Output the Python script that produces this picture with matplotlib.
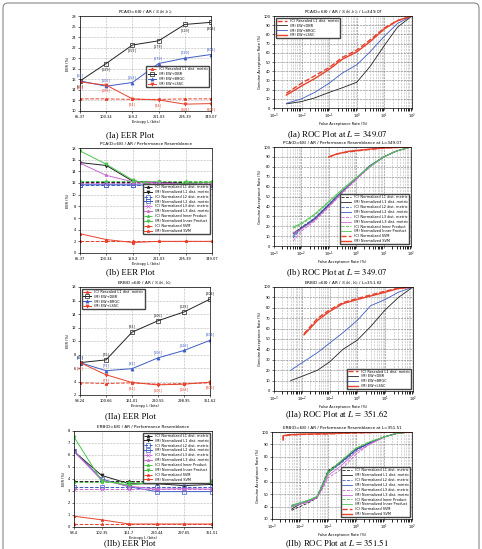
import numpy as np
import matplotlib.pyplot as plt
from matplotlib.patches import FancyBboxPatch

plt.rcParams['mathtext.fontset'] = 'stix'
W, H = 482, 549

# ---------------- data ----------------
# (Ia) EER, PCA
x1a = ["65.37", "100.34", "159.2", "221.03", "295.39", "349.07"]
eer1a_c = [12.3, 12.3, 12.2, 12.2, 12.3, 12.3]
eer1a_dbr = [15.7, 19.0, 22.5, 23.3, 26.4, 26.8]
eer1a_brgc = [15.7, 14.7, 15.4, 19.0, 20.0, 20.7]
eer1a_lssc = [15.5, 14.9, 12.3, 12.1, 11.3, 11.4]
lab1a_dbr = ["[58]", "[129]", "[153]", "[179]", "[229]", "[304]"]
lab1a_brgc = ["[58]", "[105]", "[153]", "[179]", "[229]", "[304]"]
lab1a_lssc = ["[58]", "[105]", "[44]", "[44]", "[164]", "[402]"]

# (Ia) ROC
far1a = [0.0028, 0.01, 0.03, 0.1, 0.3, 1, 3, 10, 30, 100]
gar1a_c = [16, 27, 35, 44, 55, 63, 74, 87, 95, 100]
gar1a_lssc = [14, 24, 32, 42, 53, 61, 72, 86, 95, 100]
gar1a_brgc = [5, 10, 17, 27, 38, 47, 61, 78, 92, 100]
gar1a_dbr = [4.5, 7, 11, 17, 22, 28, 45, 68, 88, 100]

# (Ib) EER, performance resemblance
eer1b_l1c = [12.2, 12.2, 12.2, 12.2, 12.2, 12.2]
eer1b_l1m = [15.5, 15.0, 12.3, 12.1, 11.9, 11.6]
eer1b_l2c = [11.7, 11.7, 11.7, 11.7, 11.7, 11.7]
eer1b_l2m = [11.7, 11.7, 11.7, 11.6, 11.6, 11.3]
eer1b_l3c = [12.0, 12.0, 12.0, 12.0, 12.0, 12.0]
eer1b_l3m = [15.4, 13.3, 12.2, 12.0, 11.9, 11.6]
eer1b_ipc = [12.3, 12.3, 12.3, 12.3, 12.3, 12.3]
eer1b_ipm = [17.5, 15.2, 12.5, 11.4, 12.0, 12.1]
eer1b_svc = [2.0, 2.0, 2.0, 2.0, 2.0, 2.0]
eer1b_svm = [3.3, 2.3, 1.8, 2.0, 2.0, 2.0]

# (Ib) ROC
far1b = [0.005, 0.01, 0.03, 0.1, 0.3, 1, 3, 10, 30, 100]
gar1b_l1c = [12, 19, 28, 42, 55, 68, 80, 90, 96, 100]
gar1b_l1m = [13, 18, 27, 41, 54, 68, 80, 90, 96, 100]
gar1b_l2c = [8, 18, 27, 41, 55, 68, 80, 90, 96, 100]
gar1b_l2m = [10, 18, 28, 42, 55, 68, 81, 90, 96, 100]
gar1b_l3c = [5, 15, 25, 39, 53, 67, 79, 90, 96, 100]
gar1b_l3m = [13, 17, 26, 40, 54, 68, 80, 90, 96, 100]
gar1b_ipc = [18, 22, 31, 44, 56, 69, 80, 90, 96, 100]
gar1b_ipm = [19, 23, 32, 45, 57, 69, 80, 90, 96, 100]
far1b_sv = [0.1, 0.2, 0.5, 1, 3, 10, 30, 100]
gar1b_svc = [90, 93, 95, 96, 97.5, 99, 99.5, 100]
gar1b_svm = [90, 93, 95.5, 96.5, 97.8, 99, 99.6, 100]

# (IIa) EER, ERB
x2a = ["58.24", "100.66", "161.01", "220.55", "298.95", "351.62"]
eer2a_c = [3.8, 3.7, 3.8, 3.6, 3.7, 3.8]
eer2a_dbr = [6.8, 7.2, 11.3, 13.0, 14.3, 16.2]
eer2a_brgc = [6.8, 5.6, 5.9, 7.5, 8.6, 10.1]
eer2a_lssc = [6.8, 5.0, 3.85, 3.5, 3.6, 3.9]
lab2a_dbr = ["[58]", "[75]", "[93]", "[106]", "[128]", "[304]"]
lab2a_brgc = ["[58]", "[75]", "[93]", "[106]", "[128]", "[304]"]
lab2a_lssc = ["[58]", "[77]", "[44]", "[105]", "[164]", "[402]"]

# (IIa) ROC
far2a_red = [0.012, 0.037, 0.1, 0.3, 1, 10, 30, 100]
gar2a_c = [55, 70, 78, 85, 89, 96, 99, 100]
gar2a_lssc = [54, 68, 76.5, 84, 88, 95, 98.5, 100]
far2a = [0.004, 0.01, 0.037, 0.1, 0.3, 1, 3, 10, 30, 100]
gar2a_brgc = [20, 27, 37, 46, 56, 68, 82, 88, 95, 100]
gar2a_dbr = [10, 14, 20, 28, 40, 49, 62, 78, 90, 100]

# (IIb) EER
x2b = ["58.4", "102.35", "161.7", "220.44", "297.65", "351.51"]
eer2b_l1c = [3.8, 3.8, 3.8, 3.8, 3.8, 3.8]
eer2b_l1m = [6.3, 4.3, 3.6, 3.6, 3.45, 3.55]
eer2b_l2c = [3.35, 3.35, 3.35, 3.35, 3.35, 3.35]
eer2b_l2m = [6.3, 4.0, 3.35, 2.95, 2.95, 2.95]
eer2b_l3c = [3.2, 3.2, 3.2, 3.2, 3.2, 3.2]
eer2b_l3m = [6.3, 3.9, 3.4, 3.15, 3.2, 3.15]
eer2b_ipc = [3.75, 3.75, 3.75, 3.75, 3.75, 3.75]
eer2b_ipm = [7.5, 3.85, 3.5, 3.75, 3.75, 3.85]
eer2b_svc = [0.25, 0.25, 0.25, 0.25, 0.25, 0.25]
eer2b_svm = [0.9, 0.6, 0.25, 0.25, 0.25, 0.25]

# (IIb) ROC
far2b = [0.005, 0.01, 0.02, 0.04, 0.06, 0.1, 0.3, 1, 3, 10, 30, 100]
gar2b_l1c = [37, 40, 43, 47, 56, 69, 76, 86, 91, 96, 99, 100]
gar2b_l1m = [38, 42, 44, 47, 55, 68, 76, 86, 91, 96, 99, 100]
gar2b_l2c = [40, 42, 44, 48, 57, 67, 75, 85, 91, 96, 99, 100]
gar2b_l2m = [41, 43, 45, 48, 56, 67, 76, 86, 91, 96, 99, 100]
gar2b_l3c = [40, 42, 44, 47, 53, 63, 70, 82, 90, 96, 99, 100]
gar2b_l3m = [40, 42, 44, 47, 54, 65, 73, 84, 90, 96, 99, 100]
gar2b_ipc = [40, 43, 45, 48, 56, 68, 77, 87, 92, 96, 99, 100]
gar2b_ipm = [41, 43, 45, 48, 56, 67, 77, 87, 92, 96, 99, 100]
far2b_sv = [0.0025, 0.0025, 0.004, 0.01, 0.1, 1, 10, 100]
gar2b_svc = [93, 96.5, 97.5, 98, 98.5, 99.3, 99.8, 100]
gar2b_svm = [94, 97, 97.8, 98.2, 98.7, 99.4, 99.8, 100]

names4 = ["(C) Rescaled L1 dist. metric", "(M) EW+DBR", "(M) EW+BRGC", "(M) EW+LSSC"]
names10 = ["(C) Normalized L1 dist. metric", "(M) Normalized L1 dist. metric",
           "(C) Normalized L2 dist. metric", "(M) Normalized L2 dist. metric",
           "(C) Normalized L3 dist. metric", "(M) Normalized L3 dist. metric",
           "(C) Normalized Inner Product", "(M) Normalized Inner Product",
           "(C) Normalized SVM", "(M) Normalized SVM"]

RED, BLK, BLU, PUR, GRN = '#e8412c', '#222222', '#3d5cc4', '#c86ad0', '#4cc44c'
sty4 = [(RED, '--', '*'), (BLK, '-', 's'), (BLU, '-', '^'), (RED, '-', 'v')]
sty10 = [(BLK, '--', '*'), (BLK, '-', 'v'), (BLU, '--', 's'), (BLU, '-', 's'),
         (PUR, '--', 'x'), (PUR, '-', '*'), (GRN, '--', '*'), (GRN, '-', 'v'),
         (RED, '--', '*'), (RED, '-', '*')]

FS = 2.6

fig = plt.figure(figsize=(W / 100, H / 100), dpi=100)
fig.patches.append(FancyBboxPatch((3 / W, -0.02), (W - 6) / W, 1.0 - 3 / H + 0.02,
                                  boxstyle="round,pad=0,rounding_size=0.01",
                                  transform=fig.transFigure, fill=False,
                                  edgecolor='#888888', linewidth=0.8))


def make_ax(l, r, t, b):
    ax = fig.add_axes([l / W, 1 - b / H, (r - l) / W, (b - t) / H])
    ax.tick_params(labelsize=FS, length=1.5, width=0.4, pad=1.2)
    for s in ax.spines.values():
        s.set_linewidth(0.5)
    return ax


def eer_panel(ax, xlabels, series, names, styles, ylim, ystep, title, loc, anchor):
    xs = np.arange(len(xlabels))
    for ys, nm, (c, ls, mk) in zip(series, names, styles):
        ax.plot(xs, ys, color=c, linestyle=ls, marker=mk, markersize=2.2,
                markerfacecolor='none' if mk == 's' else c, markeredgewidth=0.5,
                linewidth=0.7, label=nm)
    ax.set_xlim(0, len(xlabels) - 1)
    ax.set_xticks(xs)
    ax.set_xticklabels(xlabels)
    ax.set_ylim(*ylim)
    ax.set_yticks(np.arange(ylim[0], ylim[1] + 0.01, ystep))
    ax.grid(True, linestyle=':', linewidth=0.4, color='#777777')
    ax.set_title(title, fontsize=FS + 0.4, pad=2)
    ax.set_xlabel("Entropy L (bits)", fontsize=FS, labelpad=1)
    ax.set_ylabel("EER (%)", fontsize=FS, labelpad=1)
    ax.legend(fontsize=FS - 0.1, loc=loc, bbox_to_anchor=anchor, handlelength=2.5,
              labelspacing=0.25, borderpad=0.3, framealpha=1, edgecolor='#444444',
              fancybox=False)


def roc_panel(ax, curves, names, styles, ylim, title, loc):
    for (fx, gy), nm, (c, ls, mk) in zip(curves, names, styles):
        lw = 1.0 if c == RED else 0.6
        ax.semilogx(fx, gy, color=c, linestyle=ls, linewidth=lw, label=nm)
    ax.set_xlim(1e-3, 1e2)
    ax.set_ylim(*ylim)
    ax.set_yticks(np.arange(ylim[0], ylim[1] + 1, 10))
    ax.grid(True, which='major', linestyle='--', linewidth=0.4, color='#777777')
    ax.grid(True, which='minor', axis='x', linestyle=':', linewidth=0.4, color='#777777')
    ax.set_title(title, fontsize=FS + 0.4, pad=2)
    ax.set_xlabel("False Acceptance Rate (%)", fontsize=FS, labelpad=0.5)
    ax.set_ylabel("Genuine Acceptance Rate (%)", fontsize=FS, labelpad=1)
    ax.legend(fontsize=FS - 0.1, loc=loc, handlelength=3, labelspacing=0.25,
              borderpad=0.3, framealpha=1, edgecolor='#444444', fancybox=False)


def point_labels(ax, ys, labels, color, dy):
    for i, (y, t) in enumerate(zip(ys, labels)):
        ax.annotate(t, (i, y), xytext=(0, dy), textcoords='offset points',
                    ha='center', va='center', fontsize=FS - 0.3, color=color)


def caption(xc, yc, text):
    fig.text(xc / W, 1 - yc / H, text, ha='center', va='center', fontsize=6.3,
             family='Liberation Serif')


# ---- row 1 ----
ax = make_ax(80, 211, 16, 111)
eer_panel(ax, x1a, [eer1a_c, eer1a_dbr, eer1a_brgc, eer1a_lssc], names4, sty4,
          (10, 28), 2, r"PCA(D=68) / AR / $N_\lambda(b_1,b_2)$", 'center right', (1.0, 0.36))
point_labels(ax, eer1a_dbr, lab1a_dbr, BLK, -4)
point_labels(ax, eer1a_brgc, lab1a_brgc, BLU, 4)
point_labels(ax, eer1a_lssc, lab1a_lssc, RED, -4)
caption(130, 135, "(Ia) EER Plot")

ax = make_ax(274, 412, 16, 108)
roc_panel(ax, [(far1a, gar1a_c), (far1a, gar1a_dbr), (far1a, gar1a_brgc), (far1a, gar1a_lssc)],
          names4, sty4, (0, 100), r"PCA(D=68) / AR / $N_\lambda(b_1,b_2)$ / L=349.07", 'upper left')
caption(337, 135, r"(Ia) ROC Plot at $L\,=\,349.07$")

# ---- row 2 ----
ax = make_ax(80, 212, 148, 253)
eer_panel(ax, x1a, [eer1b_l1c, eer1b_l1m, eer1b_l2c, eer1b_l2m, eer1b_l3c, eer1b_l3m,
                    eer1b_ipc, eer1b_ipm, eer1b_svc, eer1b_svm], names10, sty10,
          (0, 18), 2, "PCA(D=68) / AR / Performance Resemblance", 'center right', (1.0, 0.42))
caption(130, 272, "(Ib) EER Plot")

ax = make_ax(274, 411, 147, 246)
roc_panel(ax, [(far1b, gar1b_l1c), (far1b, gar1b_l1m), (far1b, gar1b_l2c), (far1b, gar1b_l2m),
               (far1b, gar1b_l3c), (far1b, gar1b_l3m), (far1b, gar1b_ipc), (far1b, gar1b_ipm),
               (far1b_sv, gar1b_svc), (far1b_sv, gar1b_svm)],
          names10, sty10, (0, 100), "PCA(D=68) / AR / Performance Resemblance at L=349.07",
          'lower right')
caption(337, 273, r"(Ib) ROC Plot at $L\,=\,349.07$")

# ---- row 3 ----
ax = make_ax(80, 210, 287, 395)
eer_panel(ax, x2a, [eer2a_c, eer2a_dbr, eer2a_brgc, eer2a_lssc], names4, sty4,
          (2, 18), 2, r"ERB(D=68) / AR / $N_\lambda(b_1,b_2)$", 'upper left', None)
point_labels(ax, eer2a_dbr, lab2a_dbr, BLK, 4)
point_labels(ax, eer2a_brgc, lab2a_brgc, BLU, 4)
point_labels(ax, eer2a_lssc, lab2a_lssc, RED, -4)
caption(130, 416, "(IIa) EER Plot")

ax = make_ax(274, 413, 287, 391)
roc_panel(ax, [(far2a_red, gar2a_c), (far2a, gar2a_dbr), (far2a, gar2a_brgc), (far2a_red, gar2a_lssc)],
          names4, sty4, (0, 100), r"ERB(D=68) / AR / $N_\lambda(b_1,b_2)$ / L=351.62", 'lower right')
caption(337, 415, r"(IIa) ROC Plot at $L\,=\,351.62$")

# ---- row 4 ----
ax = make_ax(74, 212, 431, 527)
eer_panel(ax, x2b, [eer2b_l1c, eer2b_l1m, eer2b_l2c, eer2b_l2m, eer2b_l3c, eer2b_l3m,
                    eer2b_ipc, eer2b_ipm, eer2b_svc, eer2b_svm], names10, sty10,
          (0, 8), 1, "ERB(D=68) / AR / Performance Resemblance", 'upper right', None)
caption(130, 543, "(IIb) EER Plot")

ax = make_ax(272, 412, 432, 519)
roc_panel(ax, [(far2b, gar2b_l1c), (far2b, gar2b_l1m), (far2b, gar2b_l2c), (far2b, gar2b_l2m),
               (far2b, gar2b_l3c), (far2b, gar2b_l3m), (far2b, gar2b_ipc), (far2b, gar2b_ipm),
               (far2b_sv, gar2b_svc), (far2b_sv, gar2b_svm)],
          names10, sty10, (30, 100), "ERB(D=68) / AR / Performance Resemblance at L=351.51",
          'lower right')
caption(337, 544, r"(IIb) ROC Plot at $L\,=\,351.51$")

fig.savefig("out.png", dpi=100)
